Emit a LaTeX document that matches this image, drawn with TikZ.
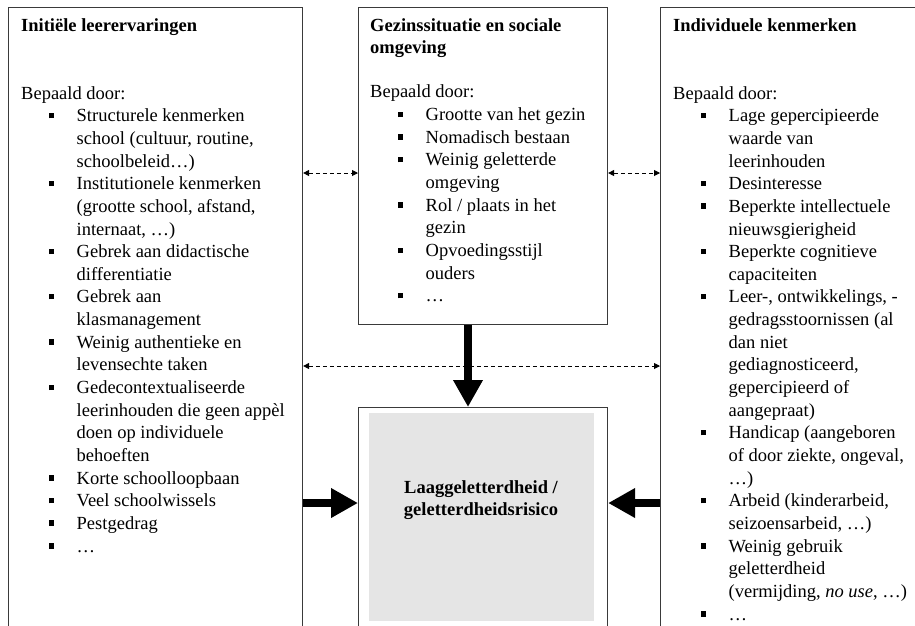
\documentclass[tikz,border=0pt]{standalone}
\usepackage{fontspec}
\setmainfont{Liberation Serif}
\usetikzlibrary{arrows.meta,calc}
\definecolor{boxline}{HTML}{3A3A3A}
\definecolor{ctrgray}{HTML}{E5E5E5}
\newcommand\bul{\hspace*{28pt}\makebox[27.5pt][l]{\rule[3.5pt]{5pt}{5.5pt}}}
\newcommand\ind{\hspace*{55.5pt}}
\begin{document}
\begin{tikzpicture}[x=1pt,y=-1pt,
  box/.style={draw=boxline, line width=1.1pt, rectangle, inner sep=0pt, anchor=north west},
  txt/.style={anchor=north west, inner sep=0pt, align=left, font=\fontsize{18.5}{22.65}\selectfont},
  dasharrow/.style={dash pattern=on 4pt off 3pt, line width=0.9pt, {Triangle[length=6pt,width=6pt]}-{Triangle[length=6pt,width=6pt]}},
  thickarrow/.style={line width=8pt, -{Triangle[length=27pt,width=28pt]}}
]
\useasboundingbox (0,0) rectangle (915,625);
\clip (0,0) rectangle (915,625);

% boxes
\node[box, minimum width=294pt, minimum height=700pt] (leftbox) at (8,7) {};
\node[box, minimum width=249pt, minimum height=317pt] (midbox) at (358,7) {};
\node[box, minimum width=280pt, minimum height=700pt] (rightbox) at (660,7) {};
\node[box, minimum width=249pt, minimum height=300pt] (ctrbox) at (358,407) {};
\node[anchor=north west, inner sep=0pt, fill=ctrgray, minimum width=225pt, minimum height=208pt] (ctrfill) at (369,413) {};
\node[align=center, inner sep=0pt, font=\bfseries\fontsize{18.5}{22.65}\selectfont] (ctrlabel) at (481,500) {Laaggeletterdheid /\\geletterdheidsrisico};

% left text
\node[txt] (lefttxt) at (21,15.1) {\strut\textbf{Initiële leerervaringen}\\[45.3pt]
Bepaald door:\\
\bul Structurele kenmerken\\
\ind school (cultuur, routine,\\
\ind schoolbeleid…)\\
\bul Institutionele kenmerken\\
\ind (grootte school, afstand,\\
\ind internaat, …)\\
\bul Gebrek aan didactische\\
\ind differentiatie\\
\bul Gebrek aan\\
\ind klasmanagement\\
\bul Weinig authentieke en\\
\ind levensechte taken\\
\bul Gedecontextualiseerde\\
\ind leerinhouden die geen appèl\\
\ind doen op individuele\\
\ind behoeften\\
\bul Korte schoolloopbaan\\
\bul Veel schoolwissels\\
\bul Pestgedrag\\
\bul …};

% middle text
\node[txt] (midtxt) at (370,15.1) {\strut\textbf{Gezinssituatie en sociale}\\
\textbf{omgeving}\\[21.5pt]
Bepaald door:\\
\bul Grootte van het gezin\\
\bul Nomadisch bestaan\\
\bul Weinig geletterde\\
\ind omgeving\\
\bul Rol / plaats in het\\
\ind gezin\\
\bul Opvoedingsstijl\\
\ind ouders\\
\bul …};

% right text
\node[txt] (righttxt) at (673,15.1) {\strut\textbf{Individuele kenmerken}\\[45.3pt]
Bepaald door:\\
\bul Lage gepercipieerde\\
\ind waarde van\\
\ind leerinhouden\\
\bul Desinteresse\\
\bul Beperkte intellectuele\\
\ind nieuwsgierigheid\\
\bul Beperkte cognitieve\\
\ind capaciteiten\\
\bul Leer-, ontwikkelings, -\\
\ind gedragsstoornissen (al\\
\ind dan niet\\
\ind gediagnosticeerd,\\
\ind gepercipieerd of\\
\ind aangepraat)\\
\bul Handicap (aangeboren\\
\ind of door ziekte, ongeval,\\
\ind …)\\
\bul Arbeid (kinderarbeid,\\
\ind seizoensarbeid, …)\\
\bul Weinig gebruik\\
\ind geletterdheid\\
\ind (vermijding, \textit{no use}, …)\\
\bul …};

% connectors
\coordinate (ytop) at (0,173);
\coordinate (ylow) at (0,366);
\coordinate (ythick) at (0,503);
\coordinate (xv) at (468,0);
\draw[dasharrow] (leftbox.east |- ytop) -- (midbox.west |- ytop);
\draw[dasharrow] (midbox.east |- ytop) -- (rightbox.west |- ytop);
\draw[dasharrow] (leftbox.east |- ylow) -- (rightbox.west |- ylow);
\draw[thickarrow] (midbox.south -| xv) -- (ctrbox.north -| xv);
\draw[thickarrow] (leftbox.east |- ythick) -- (ctrbox.west |- ythick);
\draw[thickarrow] (rightbox.west |- ythick) -- (ctrbox.east |- ythick);
\end{tikzpicture}
\end{document}
